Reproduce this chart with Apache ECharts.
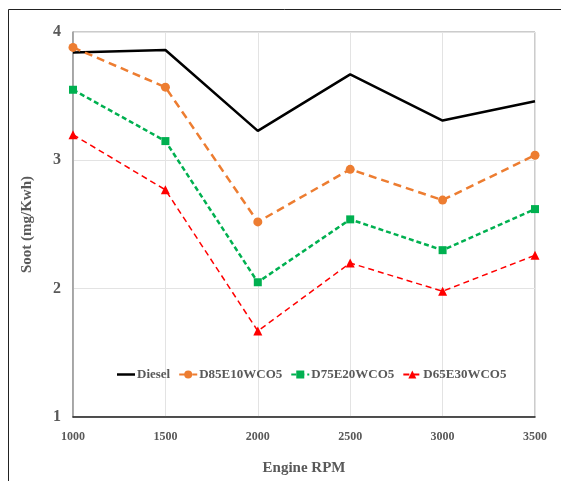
<!DOCTYPE html>
<html><head><meta charset="utf-8">
<script src="https://cdn.jsdelivr.net/npm/echarts@6/dist/echarts.min.js"></script>
<style>html,body{margin:0;padding:0;background:#fff}#c{width:561px;height:481px}</style>
</head><body><div id="c"></div>
<script>
var rpm = [1000, 1500, 2000, 2500, 3000, 3500];
var diesel = [3.84, 3.86, 3.23, 3.67, 3.31, 3.46];
var d85 = [3.88, 3.57, 2.52, 2.93, 2.69, 3.04];
var d75 = [3.55, 3.15, 2.05, 2.54, 2.30, 2.62];
var d65 = [3.20, 2.77, 1.67, 2.20, 1.98, 2.26];
var seriesNames = ['Diesel', 'D85E10WCO5', 'D75E20WCO5', 'D65E30WCO5'];

function pairs(v){ return rpm.map(function(x,i){return [x, v[i]];}); }
var font = '"Liberation Serif", "Times New Roman", serif';
var chart = echarts.init(document.getElementById('c'), null, {renderer:'canvas'});
chart.setOption({
  animation:false,
  backgroundColor:'#fff',
  textStyle:{fontFamily:font},
  graphic:[
    {type:'line', shape:{x1:8.5,y1:9.5,x2:561,y2:9.5}, style:{stroke:'#222',lineWidth:1}},
    {type:'line', shape:{x1:8.5,y1:9.5,x2:8.5,y2:481}, style:{stroke:'#222',lineWidth:1}}
  ],
  grid:{left:73, right:26, top:32, bottom:62, show:true, borderColor:'#999', borderWidth:1},
  legend:{
    top:363, left:112,
    itemGap:8, itemWidth:18, itemHeight:10,
    textStyle:{fontFamily:font, fontWeight:'bold', fontSize:13, color:'#595959', padding:[0,0,0,-3]},
    data:[
      {name:seriesNames[0], icon:'path://M0,0 L18,0 L18,2.5 L0,2.5 Z'},
      seriesNames[1], seriesNames[2], seriesNames[3]
    ]
  },
  xAxis:{
    type:'value', min:1000, max:3500, interval:500,
    name:'Engine RPM', nameLocation:'middle', nameGap:44,
    nameTextStyle:{fontFamily:font, fontWeight:'bold', fontSize:15, color:'#595959'},
    axisLine:{show:true, onZero:false, lineStyle:{color:'#222', width:1.5}},
    axisTick:{show:false},
    axisLabel:{fontFamily:font, fontWeight:'bold', fontSize:12, color:'#595959', margin:14,
      formatter:function(v){return String(v);}},
    splitLine:{show:true, lineStyle:{color:'#e3e3e3'}}
  },
  yAxis:{
    type:'value', min:1, max:4, interval:1,
    name:'Soot (mg/Kwh)', nameLocation:'middle', nameGap:38,
    nameTextStyle:{fontFamily:font, fontWeight:'bold', fontSize:15, color:'#595959'},
    axisLine:{show:true, lineStyle:{color:'#999', width:1.5}},
    axisTick:{show:false},
    axisLabel:{fontFamily:font, fontWeight:'bold', fontSize:16, color:'#595959', margin:12},
    splitLine:{show:true, lineStyle:{color:'#e3e3e3'}}
  },
  series:[
    {name:seriesNames[0], type:'line', data:pairs(diesel), symbol:'none',
     lineStyle:{color:'#000', width:2.5}, itemStyle:{color:'#000'}},
    {name:seriesNames[1], type:'line', data:pairs(d85), symbol:'circle', symbolSize:9,
     lineStyle:{color:'#ED7D31', width:2.5, type:[8,5]}, itemStyle:{color:'#ED7D31'}},
    {name:seriesNames[2], type:'line', data:pairs(d75), symbol:'rect', symbolSize:8,
     lineStyle:{color:'#00B050', width:2.5, type:[5,3]}, itemStyle:{color:'#00B050'}},
    {name:seriesNames[3], type:'line', data:pairs(d65), symbol:'triangle', symbolSize:9,
     lineStyle:{color:'#FF0000', width:1.5, type:[6,4]}, itemStyle:{color:'#FF0000'}}
  ]
});
</script></body></html>
